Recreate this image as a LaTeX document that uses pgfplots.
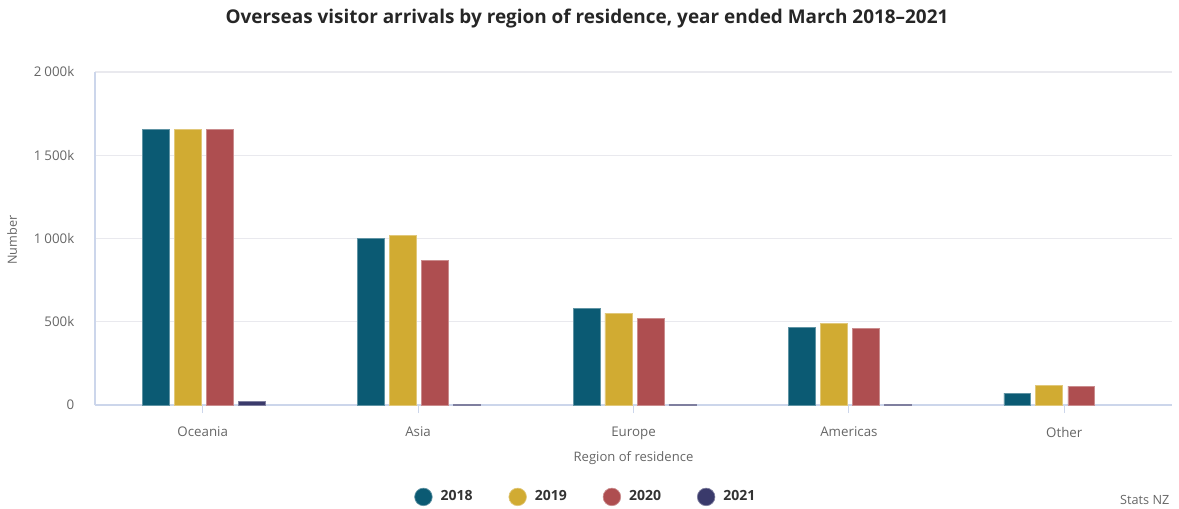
\documentclass[border=0pt]{standalone}
\usepackage{pgfplots}
\pgfplotsset{compat=1.18}
\usepackage{fontspec}
\setmainfont{Open Sans}

\definecolor{c18}{HTML}{0B5A73}
\definecolor{c19}{HTML}{D1AB32}
\definecolor{c20}{HTML}{AE4E50}
\definecolor{c21}{HTML}{3A3A6B}
\definecolor{axisline}{HTML}{CCD6EB}
\definecolor{gridc}{HTML}{E9E9EE}
\definecolor{labc}{HTML}{666666}
\newcommand{\thsp}{\hspace{0.22em}}

% positions below are in reference pixels, measured from the bottom-left corner
\begin{document}
\begin{tikzpicture}[x=0.75pt,y=0.75pt]
\useasboundingbox (0,0) rectangle (1179,508);

\node[font=\bfseries\fontsize{14.2}{16}\selectfont, text=black!85] at (587,489)
  {Overseas visitor arrivals by region of residence, year ended March 2018--2021};

\begin{axis}[
    at={(95pt*0.75,103pt*0.75)}, anchor=south west,
    scale only axis,
    width=807.75pt, height=249.75pt,
    ybar,
    bar width=0.125,
    xmin=-0.5, xmax=4.5,
    ymin=0, ymax=2000000,
    xtick={0,1,2,3,4},
    xticklabels={Oceania,Asia,Europe,Americas,Other},
    ytick={0,500000,1000000,1500000,2000000},
    yticklabels={0,500k,1\thsp000k,1\thsp500k,2\thsp000k},
    scaled y ticks=false,
    axis x line=bottom, axis y line=left,
    axis line style={axisline, line width=0.8pt, -},
    ymajorgrids=true,
    grid style={gridc, line width=0.8pt},
    tick align=outside,
    major tick length=6pt,
    xtick style={axisline, line width=0.8pt},
    ytick style={draw=none},
    ticklabel style={font=\fontsize{10}{12}\selectfont, text=labc},
    yticklabel style={xshift=-6pt},
    xticklabel style={yshift=-7pt},
    xlabel={Region of residence},
    xlabel style={font=\fontsize{9.8}{12}\selectfont, text=labc, yshift=-2pt},
    legend columns=4,
    legend style={at={(0.456,-0.276)}, anchor=center, draw=none,
        font=\fontsize{10.5}{12}\selectfont, text=black!80,
        /tikz/every odd column/.append style={column sep=4pt},
        /tikz/every even column/.append style={column sep=25pt}},
    legend image code/.code={\fill[#1] (3pt,0pt) circle (6.6pt);},
]
\addplot[fill=c18, draw=c18!65!white, line width=0.5pt, bar shift=-0.218]
  coordinates {(0,1657000)(1,1002000)(2,582000)(3,468000)(4,72000)};
\addplot[fill=c19, draw=c19!65!white, line width=0.5pt, bar shift=-0.070]
  coordinates {(0,1657000)(1,1020000)(2,552000)(3,492000)(4,120000)};
\addplot[fill=c20, draw=c20!65!white, line width=0.5pt, bar shift=0.079]
  coordinates {(0,1657000)(1,870000)(2,522000)(3,462000)(4,114000)};
\addplot[fill=c21, draw=c21!65!white, line width=0.5pt, bar shift=0.227]
  coordinates {(0,22000)(1,2500)(2,2500)(3,2500)};
\legend{\textbf{2018},\textbf{2019},\textbf{2020},\textbf{2021}}
\end{axis}

\node[rotate=90, font=\fontsize{9.5}{11}\selectfont, text=labc] at (12,268) {Number};
\node[anchor=east, font=\fontsize{9.5}{11}\selectfont, text=labc] at (1174,8) {Stats NZ};
\end{tikzpicture}
\end{document}
